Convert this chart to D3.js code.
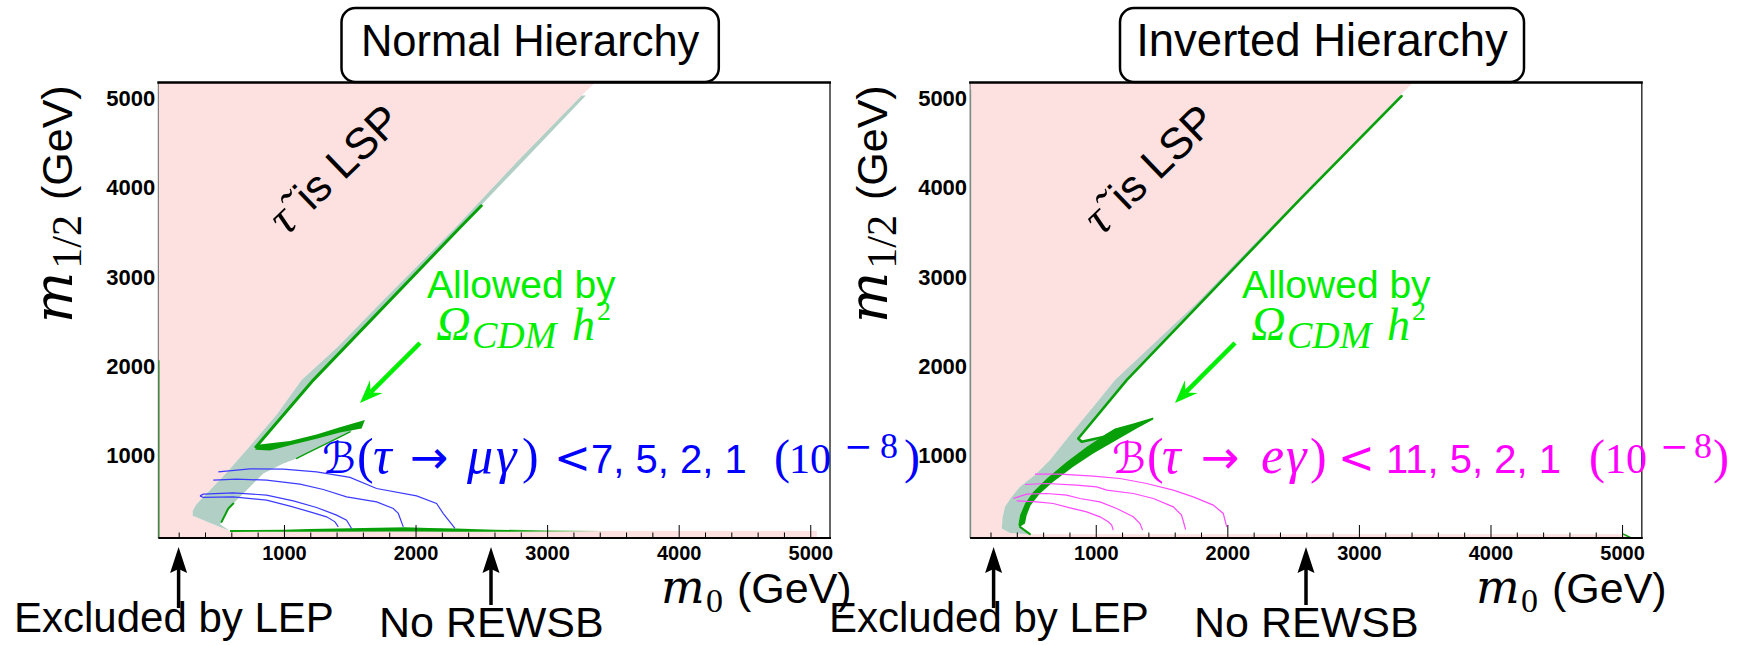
<!DOCTYPE html>
<html>
<head>
<meta charset="utf-8">
<title>CMSSM m0 - m1/2 plane, tau -> l gamma</title>
<script src="https://cdn.jsdelivr.net/npm/d3@7/dist/d3.min.js"></script>
<style>
  body { margin: 0; background: #fff; }
  svg { display: block; }
  text { font-family: "Liberation Sans", Arial, sans-serif; white-space: pre; }
  .mi { font-family: "DejaVu Serif", serif; font-style: italic; }
  .it { font-family: "Liberation Serif", "Times New Roman", serif; font-style: italic; }
  .rm { font-family: "Liberation Serif", "Times New Roman", serif; font-style: normal; }
  .cal { font-family: "DejaVu Serif", "DejaVu Sans", serif; font-style: normal; }
  .sym { font-family: "DejaVu Sans", sans-serif; font-style: normal; }
</style>
</head>
<body>
<svg id="chart" width="1750" height="645"></svg>
<script>
// axes (GeV)
const m0Domain = [45, 5150];
const m12Domain = [80, 5180];
const xTickValues = [1000, 2000, 3000, 4000, 5000];
const xMinorValues = [200, 400, 600, 800, 1200, 1400, 1600, 1800, 2200, 2400, 2600, 2800,
                      3200, 3400, 3600, 3800, 4200, 4400, 4600, 4800];
const yTickValues = [1000, 2000, 3000, 4000, 5000];

// ---------- Normal hierarchy ----------
// edge of the stau-LSP / no-EWSB region, [m0, m1/2]
const stauEdgeNH = [[3365,5180],[3262,5035],[2770,4290],[2292,3540],[1760,2750],[1410,2220],[1134,1850],
  [944,1460],[742,1110],[564,810],[420,590],[330,450],[306,380],[306,330],[425,255],[590,157],
  [5050,157],[5050,80]];
// grey-green band
const tealNH = [[3262,5035],[2770,4290],[2292,3540],[1760,2750],[1410,2220],[1134,1850],[944,1460],
  [742,1110],[564,810],[420,590],[330,450],[306,380],[306,330],[425,255],[590,157],[514,235],[526,261],
  [577,411],[615,467],[716,616],[843,803],[995,915],[1097,971],[1172,1027],[1350,1157],[1502,1269],
  [1600,1363],[1425,1288],[1248,1213],[1046,1139],[894,1083],[792,1064],[787,1100],[1223,1848],
  [2340,3560],[3295,5035]];
// Omega_CDM h^2 allowed strips
const wmapLineNH = [[2500,3800],[2340,3560],[1223,1848],[787,1100],[900,1085]];
const wmapArmNH = [[815,1128],[1046,1165],[1248,1240],[1425,1320],[1615,1402],[1590,1305],[1425,1262],
  [1248,1190],[1046,1118],[894,1060],[780,1068]];
const wmapEdgeNH = [[1502,1269],[1350,1157],[1172,1027],[1097,971]];
const wmapNotchNH = [[615,467],[577,411],[526,261]];
const wmapBottomNH = [[590,170],[1000,172],[1186,180],[1500,190],[1920,200],[2100,192],[2307,185],
  [2600,172],[3000,168],[3450,165],[3450,150],[2307,150],[1920,152],[1186,150],[590,148]];
const wmapFrameNH = [[45,80],[45,2070]];
// B(tau -> mu gamma) contours, 10^-8
const brLevelsMu = [7, 5, 2, 1];
const tauMu7 = [[362,552],[387,534],[615,541],[868,504],[1046,437],[1198,373],[1324,317],[1388,261],[1413,205]];
const tauMu5 = [[362,552],[387,571],[615,586],[868,560],[1071,496],[1248,422],[1400,336],[1476,280],[1514,187]];
const tauMu2 = [[463,728],[640,739],[868,728],[1122,683],[1299,623],[1476,541],[1704,485],[1831,410],[1869,355],[1907,205]];
const tauMu1 = [[501,821],[742,855],[995,851],[1248,821],[1502,758],[1704,634],[2008,552],[2160,466],[2211,354],[2300,187]];

// ---------- Inverted hierarchy ----------
const stauEdgeIH = [[3413,5180],[3310,5035],[2528,3860],[1760,2700],[1146,1848],[981,1549],[804,1232],
  [652,952],[538,784],[424,653],[361,541],[310,429],[292,317],[285,186],[348,135],[500,123],
  [5045,123],[5045,80]];
const tealIH = [[3310,5035],[2528,3860],[1760,2700],[1146,1848],[981,1549],[804,1232],[652,952],
  [538,784],[424,653],[361,541],[310,429],[292,317],[285,186],[348,135],[500,123],[424,205],[411,224],
  [424,336],[462,466],[525,597],[627,746],[779,933],[931,1101],[1083,1250],[1083,1220],[893,1157],
  [867,1194],[1235,1848],[2552,3871],[3330,5035]];
const wmapLineIH = [[3324,5028],[2552,3871],[1235,1848],[867,1194],[893,1157],[1083,1220]];
const wmapBandIH = [[1437,1430],[1285,1362],[1146,1306],[1083,1250],[931,1101],[779,933],[627,746],
  [525,597],[462,466],[424,336],[411,224],[424,205],[462,242],[475,336],[505,448],[576,578],[677,709],
  [829,877],[981,1026],[1159,1176],[1311,1306],[1437,1407]];
const wmapTailIH = [[424,205],[500,123]];
const wmapCornerIH = [[5010,123],[5070,80]];
const wmapFrameIH = [[45,80],[45,5100]];
// B(tau -> e gamma) contours, 10^-8
const brLevelsE = [11, 5, 2, 1];
const tauE11 = [[399,496],[551,485],[677,466],[804,418],[931,373],[1032,317],[1095,261],[1121,224],[1133,168]];
const tauE5 = [[373,522],[475,571],[627,578],[779,560],[880,522],[1032,485],[1159,410],[1285,317],[1336,242],[1356,168]];
const tauE2 = [[462,679],[627,690],[855,672],[1007,653],[1083,616],[1285,578],[1438,522],[1589,429],[1652,336],[1683,175]];
const tauE1 = [[538,795],[728,795],[981,773],[1184,746],[1387,690],[1589,616],[1741,541],[1893,448],[1969,355],[1995,205]];

// colours
const PINK = "#fde0e0", TEAL = "#b2cfc5", GREEN = "#08a008", LIME = "#00ee00";

const svg = d3.select("#chart");
const defs = svg.append("defs");
const frameTop = 82.5, frameBottom = 538, frameW = 671.7;

function blackArrow(g, x, tipY, tailY) {
  g.append("line").attr("x1", x).attr("x2", x).attr("y1", tipY + 20).attr("y2", tailY)
    .attr("stroke", "#000").attr("stroke-width", 3.5);
  g.append("path").attr("d", `M${x},${tipY}L${x + 8.5},${tipY + 26}L${x},${tipY + 22}L${x - 8.5},${tipY + 26}Z`)
    .attr("fill", "#000");
}

function limeArrow(g, x1, y1, x2, y2) {
  const len = Math.hypot(x2 - x1, y2 - y1);
  const ux = (x2 - x1) / len, uy = (y2 - y1) / len, px = -uy, py = ux;
  const back = 23, half = 9, notch = 15;
  g.append("line").attr("x1", x1).attr("y1", y1).attr("x2", x2 - ux * notch).attr("y2", y2 - uy * notch)
    .attr("stroke", LIME).attr("stroke-width", 4.5);
  const pts = [[x2, y2], [x2 - ux * back + px * half, y2 - uy * back + py * half],
               [x2 - ux * notch, y2 - uy * notch], [x2 - ux * back - px * half, y2 - uy * back - py * half]];
  g.append("path").attr("d", "M" + pts.join("L") + "Z").attr("fill", LIME);
}

function drawPanel(cfg) {
  const s = cfg.shift;
  const x = d3.scaleLinear().domain(m0Domain).range([cfg.left, cfg.left + frameW]);
  const y = d3.scaleLinear().domain(m12Domain).range([frameBottom, frameTop]);
  const path = d3.line().x(d => x(d[0])).y(d => y(d[1]));
  const g = svg.append("g");

  defs.append("clipPath").attr("id", "clip-" + cfg.key)
    .append("rect").attr("x", cfg.left).attr("y", frameTop)
    .attr("width", frameW).attr("height", frameBottom - frameTop);
  const plot = g.append("g").attr("clip-path", `url(#clip-${cfg.key})`);

  if (cfg.fadeFrom) {
    const grad = defs.append("linearGradient").attr("id", "fade-" + cfg.key)
      .attr("gradientUnits", "userSpaceOnUse")
      .attr("x1", x(cfg.fadeFrom[0])).attr("x2", x(cfg.fadeFrom[1])).attr("y1", 0).attr("y2", 0);
    grad.append("stop").attr("offset", 0).attr("stop-color", GREEN);
    grad.append("stop").attr("offset", 1).attr("stop-color", GREEN).attr("stop-opacity", 0);
  }

  // stau LSP and no-EWSB region
  const pink = [[m0Domain[0], m12Domain[1]], ...cfg.stau, [m0Domain[0], m12Domain[0]]];
  plot.append("path").attr("d", path(pink) + "Z").attr("fill", PINK);
  plot.append("path").attr("d", path(cfg.teal) + "Z").attr("fill", TEAL);

  cfg.greenAreas.forEach(a => plot.append("path").attr("d", path(a.pts) + "Z")
    .attr("fill", a.fade ? `url(#fade-${cfg.key})` : GREEN));
  cfg.greenLines.forEach(l => plot.append("path").attr("d", path(l.pts))
    .attr("fill", "none").attr("stroke", l.color || GREEN).attr("stroke-width", l.w)
    .attr("stroke-linejoin", "round").attr("stroke-linecap", "round"));

  cfg.contours.forEach(c => plot.append("path").attr("d", path(c))
    .attr("fill", "none").attr("stroke", cfg.lineColor).attr("stroke-width", 1.2));

  // axes
  const xMinor = g.append("g").attr("transform", `translate(0,${frameBottom})`)
    .call(d3.axisBottom(x).tickValues(xMinorValues).tickSize(-5.5).tickFormat(""));
  const xAxis = g.append("g").attr("transform", `translate(0,${frameBottom})`)
    .call(d3.axisBottom(x).tickValues(xTickValues).tickSize(-13).tickPadding(8).tickFormat(d3.format("d")));
  const yAxis = g.append("g").attr("transform", `translate(${cfg.left},0)`)
    .call(d3.axisLeft(y).tickValues(yTickValues).tickSize(0).tickPadding(3).tickFormat(d3.format("d")));
  [xMinor, xAxis, yAxis].forEach(a => a.select(".domain").remove());
  g.selectAll(".tick line").attr("stroke", "#000").attr("stroke-width", 1);
  g.selectAll(".tick text").attr("fill", "#000")
    .style("font-family", '"Liberation Sans", Arial, sans-serif').style("font-weight", "bold");
  xAxis.selectAll(".tick text").style("font-size", "20px");
  yAxis.selectAll(".tick text").style("font-size", "22px");

  // frame
  const r = cfg.left + frameW;
  g.append("line").attr("x1", cfg.left).attr("x2", cfg.left).attr("y1", frameTop).attr("y2", frameBottom)
    .attr("stroke", "#666").attr("stroke-width", 1);
  plot.append("path").attr("d", path(cfg.frameLine.pts)).attr("stroke", cfg.frameLine.color)
    .attr("stroke-width", 2.5).attr("fill", "none");
  g.append("line").attr("x1", r).attr("x2", r).attr("y1", frameTop).attr("y2", frameBottom)
    .attr("stroke", "#333").attr("stroke-width", 1.5);
  g.append("line").attr("x1", cfg.left - 1).attr("x2", r + 1).attr("y1", frameTop).attr("y2", frameTop)
    .attr("stroke", "#000").attr("stroke-width", 2.5);
  g.append("line").attr("x1", cfg.left).attr("x2", r + 1).attr("y1", frameBottom).attr("y2", frameBottom)
    .attr("stroke", "#000").attr("stroke-width", 2);

  // title box
  const [b0, b1] = cfg.titleBox;
  g.append("rect").attr("x", b0).attr("y", 8).attr("width", b1 - b0).attr("height", 74).attr("rx", 14)
    .attr("fill", "#fff").attr("stroke", "#000").attr("stroke-width", 2.5);
  g.append("text").attr("x", (b0 + b1) / 2).attr("y", 56).attr("text-anchor", "middle")
    .style("font-size", cfg.titleSize + "px").text(cfg.title);

  // axis titles
  const yt = g.append("text").attr("transform", `translate(${72 + s},323) rotate(-90)`);
  yt.append("tspan").attr("class", "mi").style("font-size", "54px").text("m");
  yt.append("tspan").attr("class", "rm").style("font-size", "42px").attr("dx", 3).attr("dy", 9).text("1/2");
  yt.append("tspan").attr("x", 123).attr("dy", -9).style("font-size", "43px").text("(GeV)");

  const xt = g.append("text").attr("y", 603);
  xt.append("tspan").attr("class", "mi").attr("x", 661 + s).style("font-size", "46px").text("m");
  xt.append("tspan").attr("class", "rm").attr("x", 706 + s).attr("dy", 9).style("font-size", "34px").text("0");
  xt.append("tspan").attr("x", 737 + s).attr("dy", -9).style("font-size", "43px").text("(GeV)");

  // excluded regions below the axis
  blackArrow(g, 178.6 + s, 547, 608);
  blackArrow(g, 491 + s, 547, 605);
  g.append("text").attr("x", 14 + s).attr("y", 632).style("font-size", "42px").text("Excluded by LEP");
  g.append("text").attr("x", 379 + s).attr("y", 637).style("font-size", "43px").text("No REWSB");

  // stau LSP label
  const lsp = g.append("text").attr("transform", `translate(${345 + s},180) rotate(-44)`)
    .attr("text-anchor", "middle").attr("fill", "#000");
  lsp.append("tspan").attr("class", "it").style("font-size", "48px").text("\u03c4\u0303");
  lsp.append("tspan").attr("dx", 6).style("font-size", "44px").text("\u00a0is LSP");

  // dark-matter label
  g.append("text").attr("x", 427 + s).attr("y", 298).attr("fill", LIME).style("font-size", "39px").text("Allowed by");
  const om = g.append("text").attr("fill", LIME).attr("y", 340);
  om.append("tspan").attr("class", "it").attr("x", 436 + s).style("font-size", "48px").text("\u03a9");
  om.append("tspan").attr("class", "it").attr("x", 472 + s).attr("dy", 8).style("font-size", "38px").text("CDM");
  om.append("tspan").attr("class", "it").attr("x", 572 + s).attr("dy", -8).style("font-size", "46px").text("h");
  om.append("tspan").attr("class", "rm").attr("x", 597 + s).attr("dy", -20).style("font-size", "28px").text("2");
  limeArrow(g, 420 + s, 343, 360 + s, 403);

  // branching-ratio label
  const br = g.append("text").attr("fill", cfg.textColor).attr("y", 473);
  cfg.brMath.forEach(([t, px, cls, fs]) => br.append("tspan").attr("class", cls).attr("x", px)
    .style("font-size", fs + "px").text(t));
  br.append("tspan").attr("x", cfg.brNum).style("font-size", "40px").text(cfg.levels.join(", "));
  br.append("tspan").attr("class", "rm").attr("x", cfg.brPow[0]).style("font-size", "48px").text("(");
  br.append("tspan").attr("class", "rm").attr("x", cfg.brPow[1]).style("font-size", "42px").text("10");
  br.append("tspan").attr("class", "sym").attr("x", cfg.brPow[2]).attr("dy", -15)
    .style("font-size", "34px").text("\u2212");
  br.append("tspan").attr("class", "rm").attr("x", cfg.brPow[3]).style("font-size", "36px").text("8");
  br.append("tspan").attr("class", "rm").attr("x", cfg.brPow[4]).attr("dy", 15).style("font-size", "48px").text(")");
}

drawPanel({
  key: "nh", title: "Normal Hierarchy", left: 158.3, shift: 0,
  titleBox: [341.5, 718.8], titleSize: 43.5,
  stau: stauEdgeNH, teal: tealNH,
  greenAreas: [{ pts: wmapArmNH }, { pts: wmapBottomNH, fade: true }],
  greenLines: [{ pts: wmapLineNH, w: 3 }, { pts: wmapEdgeNH, w: 1.5 }, { pts: wmapNotchNH, w: 2 }],
  frameLine: { pts: wmapFrameNH, color: GREEN },
  fadeFrom: [2700, 3450],
  contours: [tauMu7, tauMu5, tauMu2, tauMu1], lineColor: "#3b3bff", textColor: "#0000ff",
  levels: brLevelsMu,
  brMath: [["\u212c", 322, "cal", 43], ["(", 357, "rm", 50], ["\u03c4", 373, "it", 52], ["\u2192", 410, "sym", 46],
           ["\u03bc", 467, "it", 52], ["\u03b3", 496, "it", 52], [")", 522, "rm", 50], ["<", 554, "sym", 44]],
  brNum: 591, brPow: [774, 789, 844, 880, 904]
});

drawPanel({
  key: "ih", title: "Inverted Hierarchy", left: 970.1, shift: 815,
  titleBox: [1120, 1524], titleSize: 45.5,
  stau: stauEdgeIH, teal: tealIH,
  greenAreas: [{ pts: wmapBandIH }],
  greenLines: [{ pts: wmapLineIH, w: 2.6 }, { pts: wmapTailIH, w: 2 }, { pts: wmapCornerIH, w: 1.5 }],
  frameLine: { pts: wmapFrameIH, color: "#9fc4b8" },
  contours: [tauE11, tauE5, tauE2, tauE1], lineColor: "#ff48ff", textColor: "#ff00ff",
  levels: brLevelsE,
  brMath: [["\u212c", 1112, "cal", 43], ["(", 1147, "rm", 50], ["\u03c4", 1162, "it", 52], ["\u2192", 1201, "sym", 46],
           ["e", 1261, "it", 52], ["\u03b3", 1286, "it", 52], [")", 1310, "rm", 50], ["<", 1338, "sym", 44]],
  brNum: 1386, brPow: [1589, 1605, 1660, 1694, 1713]
});
</script>
</body>
</html>
